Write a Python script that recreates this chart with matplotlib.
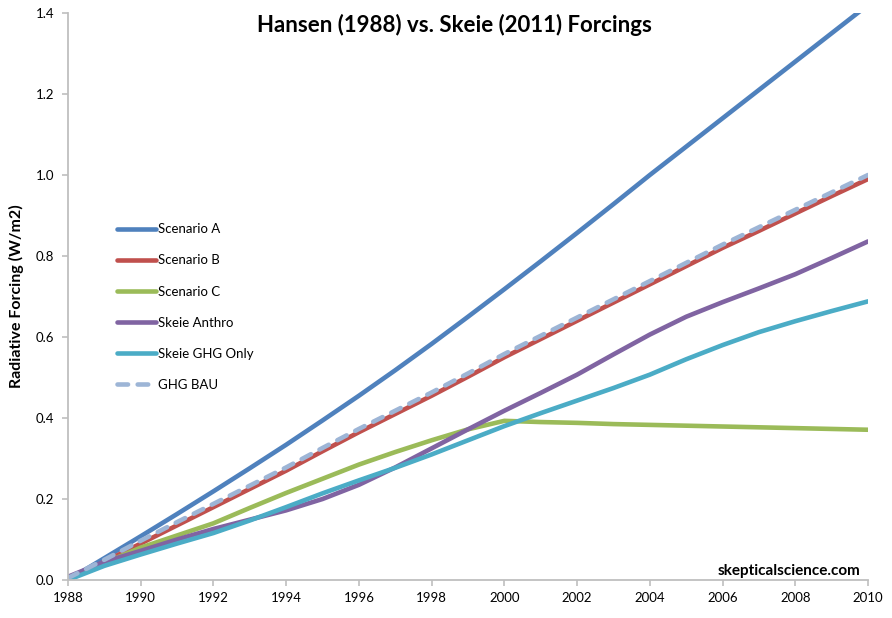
import numpy as np
import matplotlib
matplotlib.use("Agg")
import matplotlib.pyplot as plt

# data (W/m2)
years = list(range(1988, 2011))

scenario_a = [0.0, 0.054, 0.108, 0.163, 0.219, 0.276, 0.334, 0.394, 0.455, 0.518, 0.583, 0.65,
              0.718, 0.787, 0.857, 0.928, 1.0, 1.07, 1.14, 1.21, 1.28, 1.35, 1.42]
scenario_b = [0.0, 0.045, 0.09, 0.135, 0.18, 0.225, 0.27, 0.318, 0.365, 0.41, 0.455, 0.502,
              0.55, 0.595, 0.64, 0.685, 0.73, 0.775, 0.82, 0.862, 0.905, 0.948, 0.99]
scenario_c = [0.0, 0.042, 0.08, 0.11, 0.14, 0.178, 0.215, 0.25, 0.285, 0.316, 0.345, 0.372,
              0.393, 0.39, 0.388, 0.385, 0.383, 0.381, 0.379, 0.377, 0.375, 0.373, 0.371]
skeie_anthro = [0.008, 0.045, 0.072, 0.1, 0.126, 0.149, 0.172, 0.2, 0.235, 0.278, 0.325, 0.372,
                0.418, 0.462, 0.507, 0.557, 0.606, 0.65, 0.686, 0.72, 0.755, 0.795, 0.836]
skeie_ghg = [0.0, 0.035, 0.063, 0.09, 0.116, 0.147, 0.18, 0.214, 0.246, 0.277, 0.31, 0.345,
             0.38, 0.412, 0.443, 0.474, 0.507, 0.545, 0.58, 0.612, 0.639, 0.664, 0.688]
ghg_bau = [0.005, 0.05, 0.097, 0.143, 0.188, 0.233, 0.278, 0.326, 0.373, 0.418, 0.463, 0.51,
           0.558, 0.603, 0.648, 0.693, 0.738, 0.783, 0.828, 0.871, 0.914, 0.957, 1.0]

series = [
    ("Scenario A", scenario_a, "#4F81BD"),
    ("Scenario B", scenario_b, "#C0504D"),
    ("Scenario C", scenario_c, "#9BBB59"),
    ("Skeie Anthro", skeie_anthro, "#8064A2"),
    ("Skeie GHG Only", skeie_ghg, "#4BACC6"),
]

plt.rcParams['font.family'] = ['Lato', 'DejaVu Sans']

fig = plt.figure(figsize=(8.92, 6.18), dpi=100)
ax = fig.add_axes([68 / 892, 38 / 618, 800 / 892, 567 / 618])

for name, vals, col in series:
    ax.plot(years, vals, color=col, lw=3.3, label=name, solid_capstyle="round")
ax.plot(years, ghg_bau, color="#9DB5D6", lw=3.3, label="GHG BAU",
        dashes=(2.3, 2.1), dash_capstyle="round")

ax.set_xlim(1988, 2010)
ax.set_ylim(0, 1.4)
ax.set_xticks(range(1988, 2011, 2))
ax.set_yticks(np.arange(0, 1.41, 0.2))
ax.set_yticklabels([f"{v:.1f}" for v in np.arange(0, 1.41, 0.2)])

for s in ["top", "right"]:
    ax.spines[s].set_visible(False)
for s in ["left", "bottom"]:
    ax.spines[s].set_color("#BFBFBF")
    ax.spines[s].set_linewidth(1.3)
ax.tick_params(axis="both", direction="out", length=4, width=1.2, color="#BFBFBF",
               labelsize=9.5, labelcolor="black")
ax.tick_params(axis="x", pad=5)
ax.tick_params(axis="y", pad=6)

ax.set_ylabel("Radiative Forcing (W/m2)", fontsize=11.5, fontweight="bold", labelpad=8)

leg = ax.legend(loc="upper left", bbox_to_anchor=(44 / 800, 1 - 205 / 567), frameon=False,
                fontsize=9.5, handlelength=2.9, handletextpad=0.15, labelspacing=1.45,
                borderaxespad=0)

fig.text(454 / 892, 1 - 25 / 618, "Hansen (1988) vs. Skeie (2011) Forcings",
         ha="center", va="center", fontsize=16, fontweight="bold")
fig.text(860 / 892, 1 - 571 / 618, "skepticalscience.com", ha="right", va="center",
         fontsize=11, fontweight="bold")

fig.savefig("out.png", dpi=100)
